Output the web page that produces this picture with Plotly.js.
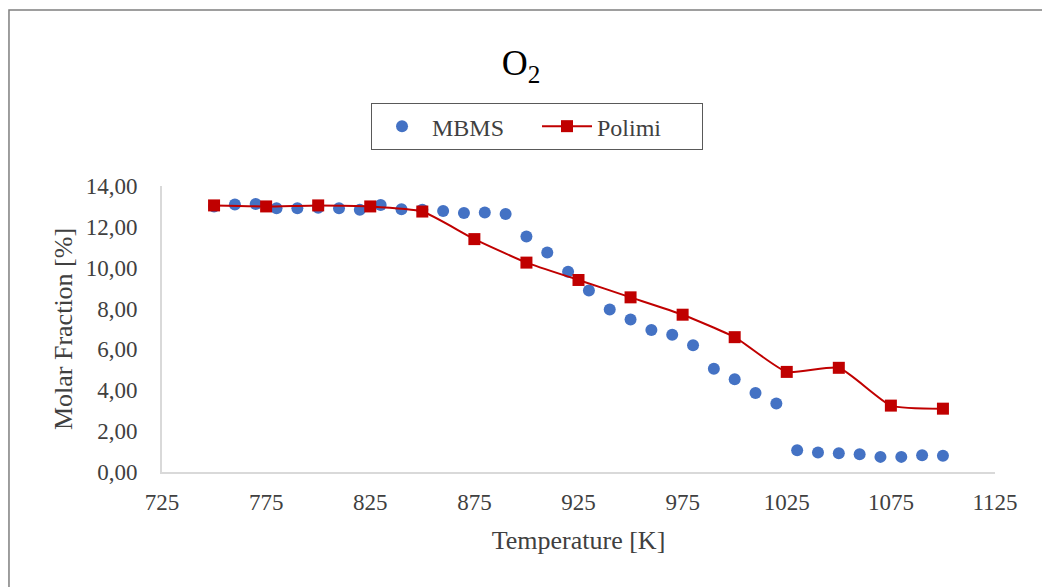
<!DOCTYPE html>
<html>
<head>
<meta charset="utf-8">
<script src="https://cdn.plot.ly/plotly-3.0.1.min.js"></script>
<style>
html,body{margin:0;padding:0;background:#fff;}
#chart{width:1042px;height:587px;}
</style>
</head>
<body>
<div id="chart"></div>
<script>
// MBMS measurements
var mbmsTemp = [750,760,770,780,790,800,810,820,830,840,850,860,870,880,890,900,910,920,930,940,950,960,970,980,990,1000,1010,1020,1030,1040,1050,1060,1070,1080,1090,1100];
var mbmsO2   = [13.00,13.09,13.12,12.91,12.91,12.94,12.91,12.84,13.07,12.86,12.84,12.78,12.68,12.70,12.63,11.53,10.74,9.80,8.89,7.96,7.47,6.95,6.72,6.20,5.05,4.54,3.87,3.35,1.06,0.96,0.92,0.87,0.74,0.74,0.82,0.80];
// Polimi model
var polimiTemp = [750,775,800,825,850,875,900,925,950,975,1000,1025,1050,1075,1100];
var polimiO2   = [13.05,13.00,13.05,13.00,12.75,11.40,10.25,9.40,8.55,7.70,6.60,4.90,5.10,3.25,3.10];
var xTicks = [725,775,825,875,925,975,1025,1075,1125];
var xTickText = ['725','775','825','875','925','975','1025','1075','1125'];
var yTicks = [0,2,4,6,8,10,12,14];
var yTickText = ['0,00','2,00','4,00','6,00','8,00','10,00','12,00','14,00'];

var serif = 'Liberation Serif';
var textCol = '#404040';

var traces = [
  {x: mbmsTemp, y: mbmsO2, name: 'MBMS', type: 'scatter', mode: 'markers',
   marker: {color: '#4472C4', size: 12, symbol: 'circle'}},
  {x: polimiTemp, y: polimiO2, name: 'Polimi', type: 'scatter', mode: 'lines+markers',
   line: {color: '#C00000', width: 2, shape: 'spline', smoothing: 0.5},
   marker: {color: '#C00000', size: 12, symbol: 'square'}}
];

var layout = {
  width: 1042, height: 587,
  margin: {l: 162, r: 47, t: 186, b: 115},
  paper_bgcolor: '#fff', plot_bgcolor: '#fff',
  font: {family: serif, color: textCol, size: 23},
  title: {text: 'O<sub>2</sub>', font: {family: serif, size: 36, color: '#000'}, x: 0.5, xanchor: 'center', y: 0.893, yanchor: 'middle'},
  showlegend: true,
  legend: {orientation: 'h', x: 0.4502, xanchor: 'center', y: 1.29, yanchor: 'top',
           bordercolor: '#595959', borderwidth: 1, font: {family: serif, size: 24, color: textCol},
           itemwidth: 50, traceorder: 'normal', entrywidth: 100},
  xaxis: {range: [725,1125], tickmode: 'array', tickvals: xTicks, ticktext: xTickText,
          showgrid: false, zeroline: false, showline: true, linecolor: '#d9d9d9', linewidth: 2,
          ticks: 'outside', ticklen: 8, tickcolor: 'rgba(0,0,0,0)', tickfont: {family: serif, size: 23, color: textCol},
          title: {text: 'Temperature [K]', font: {family: serif, size: 26, color: textCol}, standoff: 17}},
  yaxis: {range: [0,14], tickmode: 'array', tickvals: yTicks, ticktext: yTickText,
          showgrid: false, zeroline: false, showline: true, linecolor: '#d9d9d9', linewidth: 2,
          ticks: 'outside', ticklen: 18, tickcolor: 'rgba(0,0,0,0)', tickfont: {family: serif, size: 23, color: textCol},
          title: {text: 'Molar Fraction [%]', font: {family: serif, size: 26, color: textCol}, standoff: 6}},
  shapes: [
    {type: 'rect', xref: 'paper', yref: 'paper', x0: -0.1837, x1: 1.08, y0: -0.5, y1: 1.6154,
     line: {color: '#7f7f7f', width: 1.5}, fillcolor: 'rgba(0,0,0,0)', layer: 'below'}
  ]
};

Plotly.newPlot('chart', traces, layout, {displayModeBar: false, staticPlot: true});
</script>
</body>
</html>
